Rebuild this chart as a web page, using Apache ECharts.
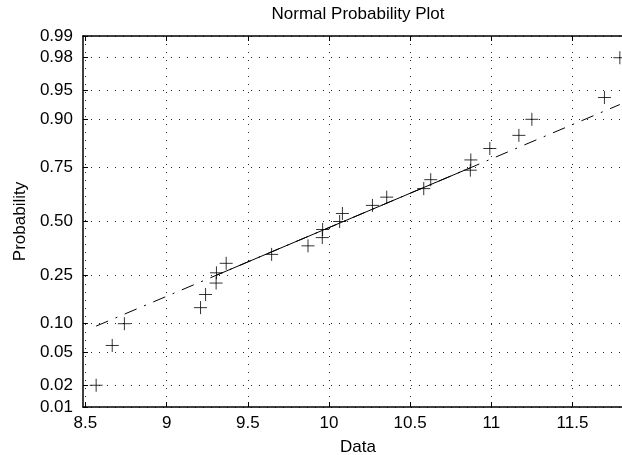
<!DOCTYPE html>
<html><head><meta charset="utf-8">
<script src="https://cdn.jsdelivr.net/npm/echarts@6/dist/echarts.min.js"></script>
<style>html,body{margin:0;padding:0;background:#fff}#c{width:622px;height:455px}</style>
</head><body><div id="c"></div>
<script>
// sorted sample values (x) and their plotting probabilities (y)
const dataX = [8.566, 8.665, 8.740, 9.209, 9.240, 9.305, 9.307, 9.367, 9.647, 9.871,
               9.959, 9.961, 10.066, 10.083, 10.268, 10.356, 10.584, 10.627, 10.871, 10.874,
               10.991, 11.170, 11.250, 11.697, 11.792];
const dataP = [0.02, 0.06, 0.10, 0.14, 0.18, 0.22, 0.26, 0.30, 0.34, 0.38,
               0.42, 0.46, 0.50, 0.54, 0.58, 0.62, 0.66, 0.70, 0.74, 0.78,
               0.82, 0.86, 0.90, 0.94, 0.98];
// reference line: solid between quartiles, dash-dot over the data range
const fitSolidX = [9.306, 10.872];
const fitSolidP = [0.25, 0.75];
const fitDashX = [8.566, 11.792];
const fitDashP = [0.0948, 0.9288];
// tick labels
const probTicks = [0.01, 0.02, 0.05, 0.10, 0.25, 0.50, 0.75, 0.90, 0.95, 0.98, 0.99];
const probLabels = ['0.01', '0.02', '0.05', '0.10', '0.25', '0.50', '0.75', '0.90', '0.95', '0.98', '0.99'];
const xTicks = [8.5, 9, 9.5, 10, 10.5, 11, 11.5];
const xMin = 8.485, xMax = 11.873;

// normal quantile (probability scale transform), Acklam's approximation
function norminv(p) {
  const a = [-3.969683028665376e+01, 2.209460984245205e+02, -2.759285104469687e+02, 1.383577518672690e+02, -3.066479806614716e+01, 2.506628277459239e+00];
  const b = [-5.447609879822406e+01, 1.615858368580409e+02, -1.556989798598866e+02, 6.680131188771972e+01, -1.328068155288572e+01];
  const c = [-7.784894002430293e-03, -3.223964580411365e-01, -2.400758277161838e+00, -2.549732539343734e+00, 4.374664141464968e+00, 2.938163982698783e+00];
  const d = [7.784695709041462e-03, 3.224671290700398e-01, 2.445134137142996e+00, 3.754408661907416e+00];
  const pl = 0.02425, ph = 1 - pl;
  let q, r;
  if (p < pl) {
    q = Math.sqrt(-2 * Math.log(p));
    return (((((c[0]*q+c[1])*q+c[2])*q+c[3])*q+c[4])*q+c[5]) / ((((d[0]*q+d[1])*q+d[2])*q+d[3])*q+1);
  } else if (p <= ph) {
    q = p - 0.5; r = q * q;
    return (((((a[0]*r+a[1])*r+a[2])*r+a[3])*r+a[4])*r+a[5])*q / (((((b[0]*r+b[1])*r+b[2])*r+b[3])*r+b[4])*r+1);
  } else {
    q = Math.sqrt(-2 * Math.log(1 - p));
    return -(((((c[0]*q+c[1])*q+c[2])*q+c[3])*q+c[4])*q+c[5]) / ((((d[0]*q+d[1])*q+d[2])*q+d[3])*q+1);
  }
}
const zTicks = probTicks.map(norminv);
function pLabel(v) {
  let best = 0;
  for (let i = 1; i < zTicks.length; i++) if (Math.abs(zTicks[i] - v) < Math.abs(zTicks[best] - v)) best = i;
  return probLabels[best];
}
const pts = dataX.map((x, i) => [x, norminv(dataP[i])]);
const solid = fitSolidX.map((x, i) => [x, norminv(fitSolidP[i])]);
const dash = fitDashX.map((x, i) => [x, norminv(fitDashP[i])]);

const FONT = 'Liberation Sans, Arial, sans-serif';
const FS = 17;
const grid = { color: '#222', width: 1, type: [1, 7] };
const chart = echarts.init(document.getElementById('c'), null, { renderer: 'canvas' });
chart.setOption({
  backgroundColor: '#fff',
  animation: false,
  title: {
    text: 'Normal Probability Plot', left: 358, top: 6, padding: 0, textAlign: 'center',
    textStyle: { fontFamily: FONT, fontSize: FS, fontWeight: 'normal', color: '#000' }
  },
  grid: { left: 83, top: 36, bottom: 48, right: -11, containLabel: false, outerBoundsMode: 'none' },
  xAxis: [{
    type: 'value', position: 'bottom', min: xMin, max: xMax,
    name: 'Data', nameLocation: 'middle', nameGap: 32,
    nameTextStyle: { fontFamily: FONT, fontSize: FS, color: '#000' },
    axisLine: { show: true, onZero: false, lineStyle: { color: '#000', width: 1.5 } },
    axisTick: { show: true, inside: true, length: 5, customValues: xTicks, lineStyle: { color: '#000' } },
    axisLabel: { customValues: xTicks, margin: 8, fontFamily: FONT, fontSize: FS, color: '#000',
                 formatter: v => String(+v.toFixed(1)) },
    splitLine: { show: true, lineStyle: grid }
  }, {
    type: 'value', position: 'top', min: xMin, max: xMax,
    axisLine: { show: true, onZero: false, lineStyle: { color: '#000', width: 1.5 } },
    axisTick: { show: true, inside: true, length: 5, customValues: xTicks, lineStyle: { color: '#000' } },
    axisLabel: { show: false },
    splitLine: { show: false }
  }],
  yAxis: {
    type: 'value', min: zTicks[0], max: zTicks[zTicks.length - 1],
    name: 'Probability', nameLocation: 'middle', nameGap: 53,
    nameTextStyle: { fontFamily: FONT, fontSize: FS, color: '#000' },
    axisLine: { show: true, onZero: false, lineStyle: { color: '#000', width: 1.5 } },
    axisTick: { show: true, inside: true, length: 5, customValues: zTicks, lineStyle: { color: '#000' } },
    axisLabel: { customValues: zTicks, margin: 10, fontFamily: FONT, fontSize: FS, color: '#000',
                 formatter: v => pLabel(v) },
    splitLine: { show: true, lineStyle: grid }
  },
  series: [{
    type: 'line', data: dash, symbol: 'none', silent: true,
    lineStyle: { color: '#000', width: 1, type: [13, 8, 2, 8] }
  }, {
    type: 'line', data: solid, symbol: 'none', silent: true,
    lineStyle: { color: '#000', width: 1, type: 'solid' }
  }, {
    type: 'scatter', data: pts, symbol: 'path://M0,6.5L13,6.5M6.5,0L6.5,13', symbolSize: 13,
    itemStyle: { color: 'rgba(0,0,0,0)', borderColor: '#000', borderWidth: 1 }
  }]
});
</script>
</body></html>
